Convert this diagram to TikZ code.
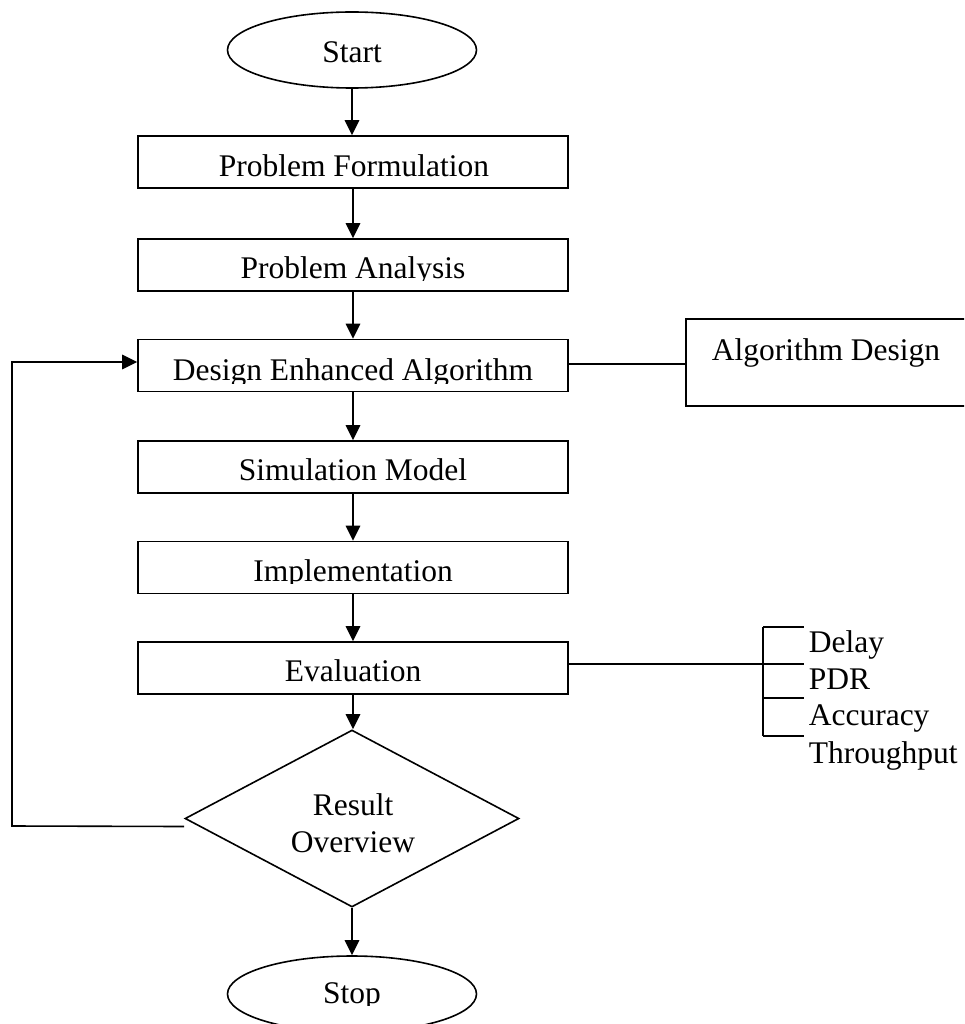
\documentclass[tikz,border=0pt]{standalone}
\usepackage{fontspec}
\setmainfont{Liberation Serif}
\usetikzlibrary{arrows.meta,shapes.geometric,calc}
\begin{document}
\begin{tikzpicture}[x=1pt,y=-1pt,
  line width=1.6pt,
  every node/.style={font=\fontsize{31.5}{36}\selectfont},
  boxnode/.style={draw, rectangle, minimum width=430pt, minimum height=52pt, inner sep=0pt},
  termnode/.style={draw, ellipse, minimum width=249pt, minimum height=76pt, inner sep=0pt},
  lbl/.style={anchor=base, inner sep=0pt},
  lblw/.style={anchor=base west, inner sep=0pt},
  arr/.style={-{Triangle[length=15pt,width=14.5pt]}},
  ]
\clip (0,0) rectangle (964,1024);

% terminals and boxes
\node[termnode] (start) at (352,50) {};
\node[lbl] (tstart) at (352,63) {Start};

\node[boxnode] (pf) at (353,162) {};
\node[boxnode] (pa) at (353,265) {};
\node[boxnode] (dea) at (353,365.5) {};
\node[boxnode] (sm) at (353,467) {};
\node[boxnode] (im) at (353,567.5) {};
\node[boxnode] (ev) at (353,668) {};

\begin{scope}\clip (138,136) rectangle (568,179.5);
\node[lbl] (tpf) at (354,177) {Problem Formulation};\end{scope}
\begin{scope}\clip (138,239) rectangle (568,280.5);
\node[lbl] (tpa) at (353,278) {Problem Analysis};\end{scope}
\begin{scope}\clip (138,339) rectangle (568,383);
\node[lbl] (tdea) at (353,380) {Design Enhanced Algorithm};\end{scope}
\begin{scope}\clip (138,441) rectangle (568,482.5);
\node[lbl] (tsm) at (353,480) {Simulation Model};\end{scope}
\begin{scope}\clip (138,542) rectangle (568,583);
\node[lbl] (tim) at (353,581) {Implementation};\end{scope}
\begin{scope}\clip (138,642) rectangle (568,683);
\node[lbl] (tev) at (353,681) {Evaluation};\end{scope}

\node[draw, diamond, minimum width=334pt, minimum height=177pt, inner sep=0pt] (dia) at (352,818.5) {};
\node[lbl] (tres) at (353,815) {Result};
\node[lbl] (tover) at (353,852) {Overview};

\node[termnode] (stop) at (352,994) {};
\begin{scope}\clip (228,956) rectangle (477,1005);
\node[lbl] (tstop) at (352,1003) {Stop};\end{scope}

% side box
\node[draw, rectangle, minimum width=400pt, minimum height=87pt, inner sep=0pt, anchor=north west] (ad) at (685,318) {};
\node[lbl] (tad) at (826,360) {Algorithm Design};

% main arrows
\draw[arr] (start.south) -- (start.south |- pf.north);
\draw[arr] (pf.south) -- (pa.north);
\draw[arr] (pa.south) -- (dea.north);
\draw[arr] (dea.south) -- (sm.north);
\draw[arr] (sm.south) -- (im.north);
\draw[arr] (im.south) -- (ev.north);
\draw[arr] (ev.south) -- (ev.south |- dia.north);
\draw[arr] (dia.south) -- (dia.south |- stop.north);

% link to algorithm design
\draw ([yshift=1.5pt]dea.east) -- ([yshift=1.5pt]dea.east -| ad.west);

% feedback loop
\coordinate (fb0) at ($(dia.west)+(0,8)$);
\coordinate (fb1) at (12,826);
\coordinate (fb2) at (12,362);
\draw[arr] (fb0) -- (fb1) -- (fb2) -- (fb2 -| dea.west);

% evaluation metrics bracket
\coordinate (br) at (763,664);
\coordinate (b1) at (763,627);
\coordinate (b4) at (763,736);
\draw ([yshift=4pt]ev.east) -- (br);
\draw (b1) -- (b4);
\foreach \yy in {627,664,698,736} \draw (763,\yy) -- (804,\yy);
\node[lblw] (m1) at (808,652) {Delay};
\node[lblw] (m2) at (808,689) {PDR};
\node[lblw] (m3) at (808,725) {Accuracy};
\node[lblw] (m4) at (808,763) {Throughput};
\end{tikzpicture}
\end{document}
